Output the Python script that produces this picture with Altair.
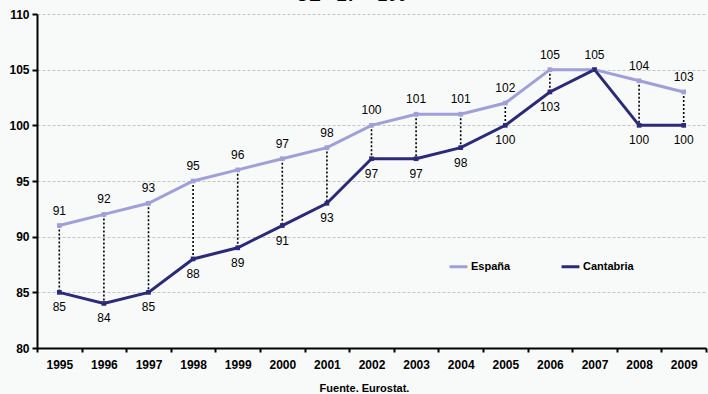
import altair as alt
import pandas as pd

# Índice PIB per cápita (UE-27 = 100)
years = ["1995", "1996", "1997", "1998", "1999", "2000", "2001", "2002",
         "2003", "2004", "2005", "2006", "2007", "2008", "2009"]
espana = [91, 92, 93, 95, 96, 97, 98, 100, 101, 101, 102, 105, 105, 104, 103]
cantabria = [85, 84, 85, 88, 89, 91, 93, 97, 97, 98, 100, 103, 105, 100, 100]

series_names = ["España", "Cantabria"]
series_colors = ["#a09fd9", "#2b2a7a"]

wide = pd.DataFrame({"year": years, "esp": espana, "cant": cantabria})
long = pd.concat([
    pd.DataFrame({"year": years, "serie": "España", "valor": espana}),
    pd.DataFrame({"year": years, "serie": "Cantabria", "valor": cantabria}),
])

FONT = "Liberation Sans"

x_enc = alt.X(
    "year:O",
    bandPosition=0.5,
    scale=alt.Scale(type="band", paddingInner=0, paddingOuter=0),
    axis=alt.Axis(
        title="Fuente. Eurostat.",
        titleFont=FONT, titleFontSize=11, titleFontWeight="bold",
        titleColor="#000000", titleX=327, titleY=34,
        labelAngle=0, labelFont=FONT, labelFontSize=12, labelFontWeight="bold",
        labelColor="#000000", labelPadding=7,
        tickBand="extent", tickSize=4, tickWidth=2, tickColor="#000000",
        domainColor="#000000", domainWidth=2, grid=False,
    ),
)

y_scale = alt.Scale(domain=[80, 110], nice=False, zero=False)
y_axis = alt.Axis(
    values=[80, 85, 90, 95, 100, 105, 110],
    title=None, labelFont=FONT, labelFontSize=12, labelFontWeight="bold",
    labelColor="#000000", labelPadding=3,
    tickSize=5, tickWidth=2, tickColor="#000000",
    domainColor="#000000", domainWidth=2,
    grid=True, gridColor="#c4c4c4", gridDash=[3, 2], gridWidth=1,
)

color_scale = alt.Scale(domain=series_names, range=series_colors)

drops = alt.Chart(wide).transform_filter(
    "datum.esp != datum.cant"
).mark_rule(color="#000000", strokeWidth=1.6, strokeDash=[2, 2]).encode(
    x=x_enc,
    y=alt.Y("esp:Q", scale=y_scale, axis=y_axis),
    y2="cant:Q",
)

lines = alt.Chart(long).mark_line(strokeWidth=3).encode(
    x=x_enc,
    y=alt.Y("valor:Q", scale=y_scale, axis=y_axis),
    color=alt.Color(
        "serie:N", scale=color_scale, sort=series_names,
        legend=alt.Legend(
            title=None, orient="none", legendX=411, legendY=242,
            direction="horizontal", columns=2, columnPadding=44,
            symbolType="stroke", symbolStrokeWidth=3, symbolSize=320,
            labelFont=FONT, labelFontSize=11, labelFontWeight="bold",
            labelColor="#000000", labelOffset=2,
        ),
    ),
)

points = alt.Chart(long).mark_square(size=22, opacity=1).encode(
    x=x_enc,
    y=alt.Y("valor:Q", scale=y_scale, axis=y_axis),
    color=alt.Color("serie:N", scale=color_scale, legend=None),
)

labels_esp = alt.Chart(wide).mark_text(
    dy=-15, font=FONT, fontSize=12, color="#000000"
).encode(
    x=x_enc,
    y=alt.Y("esp:Q", scale=y_scale, axis=y_axis),
    text="esp:Q",
)

labels_cant = alt.Chart(wide).transform_filter(
    "datum.esp != datum.cant"
).mark_text(
    dy=15, font=FONT, fontSize=12, color="#000000"
).encode(
    x=x_enc,
    y=alt.Y("cant:Q", scale=y_scale, axis=y_axis),
    text="cant:Q",
)

chart = alt.layer(drops, lines, points, labels_esp, labels_cant).properties(
    width=669,
    height=334,
    title=alt.Title("UE - 27 = 100", font=FONT, fontSize=18, fontWeight="bold",
                    color="#000000", offset=3, dx=-20, anchor="middle"),
    autosize=alt.AutoSizeParams(type="none"),
    padding={"left": 37, "top": 14, "right": 2, "bottom": 46},
    background="#f8faf9",
).configure_view(stroke=None)

chart.save("out.html", embed_options={"renderer": "svg", "actions": False})
